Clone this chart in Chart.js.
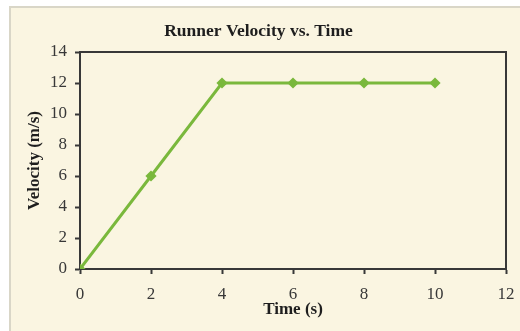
<!DOCTYPE html>
<html>
<head>
<meta charset="utf-8">
<script src="https://cdn.jsdelivr.net/npm/chart.js@4/dist/chart.umd.min.js"></script>
<style>
  html, body { margin: 0; padding: 0; background: #fff; overflow: hidden; width: 520px; height: 331px; }
  .panel {
    position: absolute; left: 9px; top: 6px; width: 520px; height: 330px;
    background: #faf5e1; border-left: 2px solid #d9d6c7; border-top: 2px solid #d9d6c7;
  }
  .panel canvas { position: absolute; left: 0; top: 0; }
</style>
</head>
<body>
<div class="panel">
  <canvas id="chart" width="520" height="323"></canvas>
</div>
<script>
// runner data: time in seconds, velocity in m/s
const timeSec = [0, 2, 4, 6, 8, 10];
const velocity = [0, 6, 12, 12, 12, 12];
const xTicks = [0, 2, 4, 6, 8, 10, 12];
const yTicks = [0, 2, 4, 6, 8, 10, 12, 14];

const green = '#7ab83c';
const ink = '#383838';
const serif = "'Liberation Serif', 'DejaVu Serif', serif";

// box around the plot area (top and right sides aren't drawn by the axes)
const frame = {
  id: 'frame',
  beforeDatasetsDraw(chart) {
    const { ctx, chartArea: a } = chart;
    ctx.save();
    ctx.strokeStyle = ink;
    ctx.lineWidth = 2;
    ctx.strokeRect(a.left, a.top, a.right - a.left, a.bottom - a.top);
    ctx.restore();
  }
};

new Chart(document.getElementById('chart'), {
  type: 'line',
  data: {
    datasets: [{
      data: timeSec.map((t, i) => ({ x: t, y: velocity[i] })),
      borderColor: green,
      backgroundColor: green,
      borderWidth: 3,
      pointStyle: 'rectRot',
      pointRadius: 3.5,
      pointHoverRadius: 3.5,
      tension: 0
    }]
  },
  options: {
    responsive: false,
    animation: false,
    layout: { padding: { left: 0, right: 25, top: 0, bottom: 0 } },
    plugins: {
      legend: { display: false },
      tooltip: { enabled: false },
      title: {
        display: true,
        text: 'Runner Velocity vs. Time',
        color: '#1e1e1e',
        font: { family: serif, size: 17.5, weight: 'bold' },
        padding: { top: 13, bottom: 10 }
      }
    },
    scales: {
      x: {
        type: 'linear',
        min: 0,
        max: 12,
        afterBuildTicks: s => { s.ticks = xTicks.map(v => ({ value: v })); },
        afterFit: s => { s.height = 62; },
        grid: { drawOnChartArea: false, color: ink, tickLength: 5, tickWidth: 2 },
        border: { color: ink, width: 2 },
        ticks: { color: ink, font: { family: serif, size: 17 }, padding: 10 },
        title: {
          display: true,
          text: 'Time (s)',
          color: '#1e1e1e',
          font: { family: serif, size: 17, weight: 'bold' },
          padding: { top: 0, bottom: 11 }
        }
      },
      y: {
        min: 0,
        max: 14,
        afterBuildTicks: s => { s.ticks = yTicks.map(v => ({ value: v })); },
        afterFit: s => { s.width = 69; },
        grid: { drawOnChartArea: false, color: ink, tickLength: 5, tickWidth: 2 },
        border: { color: ink, width: 2 },
        ticks: { color: ink, font: { family: serif, size: 17 }, padding: 8 },
        title: {
          display: true,
          text: 'Velocity (m/s)',
          color: '#1e1e1e',
          font: { family: serif, size: 17, weight: 'bold' },
          padding: { top: 13, bottom: 0 }
        }
      }
    }
  },
  plugins: [frame]
});
</script>
</body>
</html>
